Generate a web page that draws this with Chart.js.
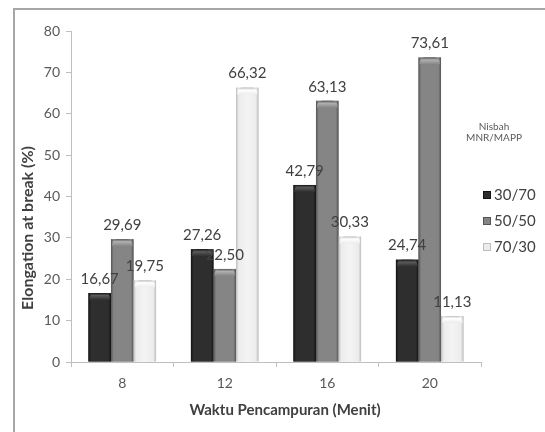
<!DOCTYPE html>
<html>
<head>
<meta charset="utf-8">
<script src="https://cdn.jsdelivr.net/npm/chart.js@4"></script>
<style>
html,body{margin:0;padding:0;background:#fff;}
#wrap{width:545px;height:432px;position:relative;}
</style>
</head>
<body>
<div id="wrap"><canvas id="c" width="545" height="432"></canvas></div>
<script>
const categories = ['8', '12', '16', '20'];
const seriesNames = ['30/70', '50/50', '70/30'];
const values3070 = [16.67, 27.26, 42.79, 24.74];
const values5050 = [29.69, 22.50, 63.13, 73.61];
const values7030 = [19.75, 66.32, 30.33, 11.13];
const yTicks = [0, 10, 20, 30, 40, 50, 60, 70, 80];
const legendTitle = ['Nisbah', 'MNR/MAPP'];
const xTitle = 'Waktu Pencampuran (Menit)';
const yTitle = 'Elongation at break (%)';

const FONT = 'Lato, "Open Sans", sans-serif';
const fills = ['#2e2e2e', '#858585', '#ececec'];
const edges = ['#141414', '#555555', '#bdbdbd'];
const caps = ['#5a5a5a', '#b0b0b0', '#ffffff'];

const fmt = v => v.toFixed(2).replace('.', ',');

const framePlugin = {
  id: 'frame',
  beforeDraw(chart) {
    const ctx = chart.ctx;
    ctx.save();
    ctx.strokeStyle = '#a6a6a6';
    ctx.lineWidth = 2;
    ctx.beginPath();
    ctx.moveTo(14, 432);
    ctx.lineTo(14, 9);
    ctx.lineTo(545, 9);
    ctx.stroke();
    ctx.restore();
  }
};

const shadePlugin = {
  id: 'shade',
  afterDatasetsDraw(chart) {
    const ctx = chart.ctx;
    ctx.save();
    chart.data.datasets.forEach((ds, di) => {
      const meta = chart.getDatasetMeta(di);
      meta.data.forEach((bar, i) => {
        const p = bar.getProps(['x', 'y', 'base', 'width'], true);
        const l = p.x - p.width / 2, r = p.x + p.width / 2;
        const g = ctx.createLinearGradient(l, 0, r, 0);
        g.addColorStop(0, edges[di]);
        g.addColorStop(0.12, fills[di]);
        g.addColorStop(0.5, caps[di] === '#ffffff' ? '#f4f4f4' : fills[di]);
        g.addColorStop(0.88, fills[di]);
        g.addColorStop(1, edges[di]);
        ctx.fillStyle = g;
        ctx.fillRect(l, p.y, p.width, p.base - p.y);
        const cg = ctx.createLinearGradient(0, p.y, 0, p.y + 7);
        cg.addColorStop(0, edges[di]);
        cg.addColorStop(0.35, caps[di]);
        cg.addColorStop(1, fills[di]);
        ctx.fillStyle = cg;
        ctx.beginPath();
        ctx.moveTo(l + 1, p.y + 7);
        ctx.quadraticCurveTo(l + 1, p.y, l + 6, p.y);
        ctx.lineTo(r - 6, p.y);
        ctx.quadraticCurveTo(r - 1, p.y, r - 1, p.y + 7);
        ctx.closePath();
        ctx.fill();
      });
    });
    // value labels on top of all bars
    ctx.fillStyle = '#404040';
    ctx.font = '15px ' + FONT;
    ctx.textAlign = 'center';
    ctx.textBaseline = 'middle';
    chart.data.datasets.forEach((ds, di) => {
      chart.getDatasetMeta(di).data.forEach((bar, i) => {
        const p = bar.getProps(['x', 'y'], true);
        ctx.fillText(fmt(ds.data[i]), p.x, p.y - 14);
      });
    });
    // axis titles
    ctx.fillStyle = '#404040';
    ctx.font = 'bold 15px ' + FONT;
    ctx.fillText(xTitle, 285, 410);
    ctx.save();
    ctx.translate(28, 228);
    ctx.rotate(-Math.PI / 2);
    ctx.font = 'bold 16px ' + FONT;
    ctx.fillText(yTitle, 0, 0);
    ctx.restore();
    // legend
    ctx.fillStyle = '#595959';
    ctx.font = '10px ' + FONT;
    ctx.textAlign = 'center';
    legendTitle.forEach((t, k) => ctx.fillText(t, 494, 127 + k * 11));
    chart.data.datasets.forEach((ds, di) => {
      const y = 195 + di * 26;
      ctx.fillStyle = fills[di];
      ctx.fillRect(483, y - 4, 8, 8);
      ctx.strokeStyle = edges[di];
      ctx.lineWidth = 1;
      ctx.strokeRect(483.5, y - 3.5, 7, 7);
      ctx.fillStyle = '#404040';
      ctx.font = '15px ' + FONT;
      ctx.textAlign = 'left';
      ctx.fillText(ds.label, 494, y);
    });
    ctx.restore();
  }
};

new Chart(document.getElementById('c'), {
  type: 'bar',
  data: {
    labels: categories,
    datasets: [
      { label: seriesNames[0], data: values3070, backgroundColor: fills[0] },
      { label: seriesNames[1], data: values5050, backgroundColor: fills[1] },
      { label: seriesNames[2], data: values7030, backgroundColor: fills[2] }
    ]
  },
  options: {
    responsive: false,
    animation: false,
    devicePixelRatio: 1,
    categoryPercentage: 0.66,
    barPercentage: 1.0,
    layout: { padding: { left: 0, top: 31, right: 64, bottom: 0 } },
    plugins: {
      legend: { display: false },
      tooltip: { enabled: false }
    },
    scales: {
      x: {
        grid: { offset: true, drawOnChartArea: false, drawTicks: true, tickLength: 5, color: '#bfbfbf' },
        border: { color: '#bfbfbf' },
        ticks: { color: '#595959', font: { family: FONT, size: 14 }, padding: 8 },
        afterFit(scale) { scale.height = 70; }
      },
      y: {
        min: 0, max: 80,
        afterBuildTicks(scale) { scale.ticks = yTicks.map(v => ({ value: v })); },
        grid: { drawOnChartArea: false, drawTicks: true, tickLength: 5, color: '#bfbfbf' },
        border: { color: '#bfbfbf' },
        ticks: { color: '#595959', font: { family: FONT, size: 14 }, padding: 6 },
        afterFit(scale) { scale.width = 71; }
      }
    }
  },
  plugins: [framePlugin, shadePlugin]
});
</script>
</body>
</html>
